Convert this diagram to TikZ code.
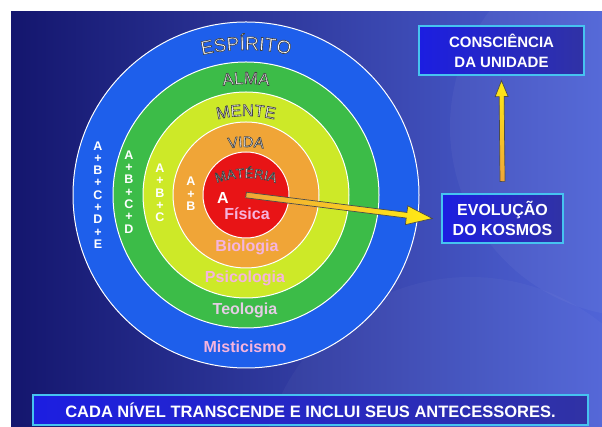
\documentclass[tikz,border=0pt]{standalone}
\usepackage{fontspec}
\setmainfont{Liberation Sans}
\usetikzlibrary{calc, decorations.text}
\definecolor{navy}{RGB}{20,22,110}
\definecolor{skyblue}{RGB}{80,100,215}
\definecolor{ringblue}{RGB}{30,95,235}
\definecolor{ringgreen}{RGB}{60,188,72}
\definecolor{ringyellow}{RGB}{205,233,40}
\definecolor{ringorange}{RGB}{240,165,55}
\definecolor{ringred}{RGB}{232,20,22}
\definecolor{boxblue}{RGB}{28,30,225}
\definecolor{boxdeep}{RGB}{48,50,165}
\definecolor{boxedge}{RGB}{70,195,240}
\definecolor{rosy}{RGB}{245,180,222}
\definecolor{rosygray}{RGB}{228,205,228}
\definecolor{arrowgold}{RGB}{255,235,20}
\newcommand\outl[1]{\special{pdf:literal direct 2 Tr 0.6 w 0.25 G}#1\special{pdf:literal direct 0 Tr}}
\newcommand\ringlabel[4]{%
  \path[decorate, decoration={text effects along path, text={#1}, text align=center,
    text effects/.cd, text along path,
    characters={text=white, font=\fontsize{#4}{#4}\selectfont}, character command=\outl}]
    ($(246,#2-#3)+(150:#3)$) arc[start angle=150, end angle=30, radius=#3];}
\tikzset{
  ring/.style={circle, draw=white, line width=1pt, inner sep=0pt},
  stack/.style={align=center, text=white, inner sep=0pt, font=\bfseries\fontsize{12.5}{12.3}\selectfont},
  lvl/.style={inner sep=0pt, font=\bfseries\fontsize{16}{18}\selectfont},
  box/.style={draw=boxedge, line width=1.2pt, left color=boxblue, right color=boxdeep,
    text=white, align=center, inner sep=0pt},
  fatarrow/.style n args={3}{to path={
    let \p1=(\tikztostart), \p2=(\tikztotarget),
        \n1={atan2(\y2-\y1,\x2-\x1)}, \n2={veclen(\x2-\x1,\y2-\y1)} in
    ($(\p1)+(\n1+90:#1)$) -- ($(\p1)+(\n1:\n2-#3)+(\n1+90:#1)$)
    -- ($(\p1)+(\n1:\n2-#3)+(\n1+90:#2)$) -- (\p2)
    -- ($(\p1)+(\n1:\n2-#3)+(\n1-90:#2)$) -- ($(\p1)+(\n1:\n2-#3)+(\n1-90:#1)$)
    -- ($(\p1)+(\n1-90:#1)$) -- cycle}}
}

\begin{document}
\begin{tikzpicture}[x=1pt, y=1pt]
\useasboundingbox (0,0) rectangle (602,427);
\fill[white] (0,0) rectangle (602,427);
\shade[left color=navy, right color=skyblue] (11,0) rectangle (602,415);
\fill[white, opacity=0.04] (640,300) circle[radius=190];
\fill[white, opacity=0.03] (470,-60) circle[radius=210];

\node[ring, fill=ringblue, minimum size=346pt] (espirito) at (246,232) {};
\node[ring, fill=ringgreen, minimum size=266pt] (alma) at (246,232) {};
\node[ring, fill=ringyellow, minimum size=206pt] (mente) at (246,232) {};
\node[ring, fill=ringorange, minimum size=146pt] (vida) at (246,232) {};
\node[ring, fill=ringred, minimum size=86pt] (materia) at (246,232) {};

\ringlabel{ESPÍRITO}{377}{200}{19}
\ringlabel{ALMA}{343}{150}{17}
\ringlabel{MENTE}{311}{120}{16.5}
\ringlabel{VIDA}{280}{100}{15}
\ringlabel{MATÉRIA}{249}{90}{13.5}

\node[lvl, text=white] (a) at (223,229) {A};
\node[lvl, text=rosy] (fisica) at (247,213) {Física};
\node[lvl, text=rosy] (biologia) at (247,180) {Biologia};
\node[lvl, text=rosy] (psicologia) at (245,149) {Psicologia};
\node[lvl, text=rosygray] (teologia) at (245,117) {Teologia};
\node[lvl, text=rosy] (misticismo) at (245,80) {Misticismo};

\node[stack] (abcde) at (98,232) {A\\+\\B\\+\\C\\+\\D\\+\\E};
\node[stack] (abcd) at (129,235) {A\\+\\B\\+\\C\\+\\D};
\node[stack] (abc) at (160,234) {A\\+\\B\\+\\C};
\node[stack] (ab) at (191,233) {A\\+\\B};

\node[box, minimum width=165pt, minimum height=49pt, font=\bfseries\fontsize{15}{20}\selectfont]
  (consc) at (501.5,376.5) {CONSCIÊNCIA\\DA UNIDADE};
\node[box, minimum width=121pt, minimum height=49pt, font=\bfseries\fontsize{16}{20}\selectfont]
  (evol) at (502.5,208.5) {EVOLUÇÃO\\DO KOSMOS};
\node[box, minimum width=555pt, minimum height=30pt, font=\bfseries\fontsize{16.5}{18}\selectfont]
  (lema) at (310.5,17) {CADA NÍVEL TRANSCENDE E INCLUI SEUS ANTECESSORES.};

\draw[fatarrow={2.8}{9.5}{26}, draw=black!70, line width=0.7pt, left color=ringorange, right color=arrowgold]
  (materia.center) to ([xshift=-9pt]evol.west);
\draw[fatarrow={2.5}{6.5}{16}, draw=black!70, line width=0.7pt, bottom color=ringorange, top color=arrowgold]
  ([yshift=12pt]evol.north) to ([yshift=-5pt]consc.south);
\end{tikzpicture}
\end{document}
